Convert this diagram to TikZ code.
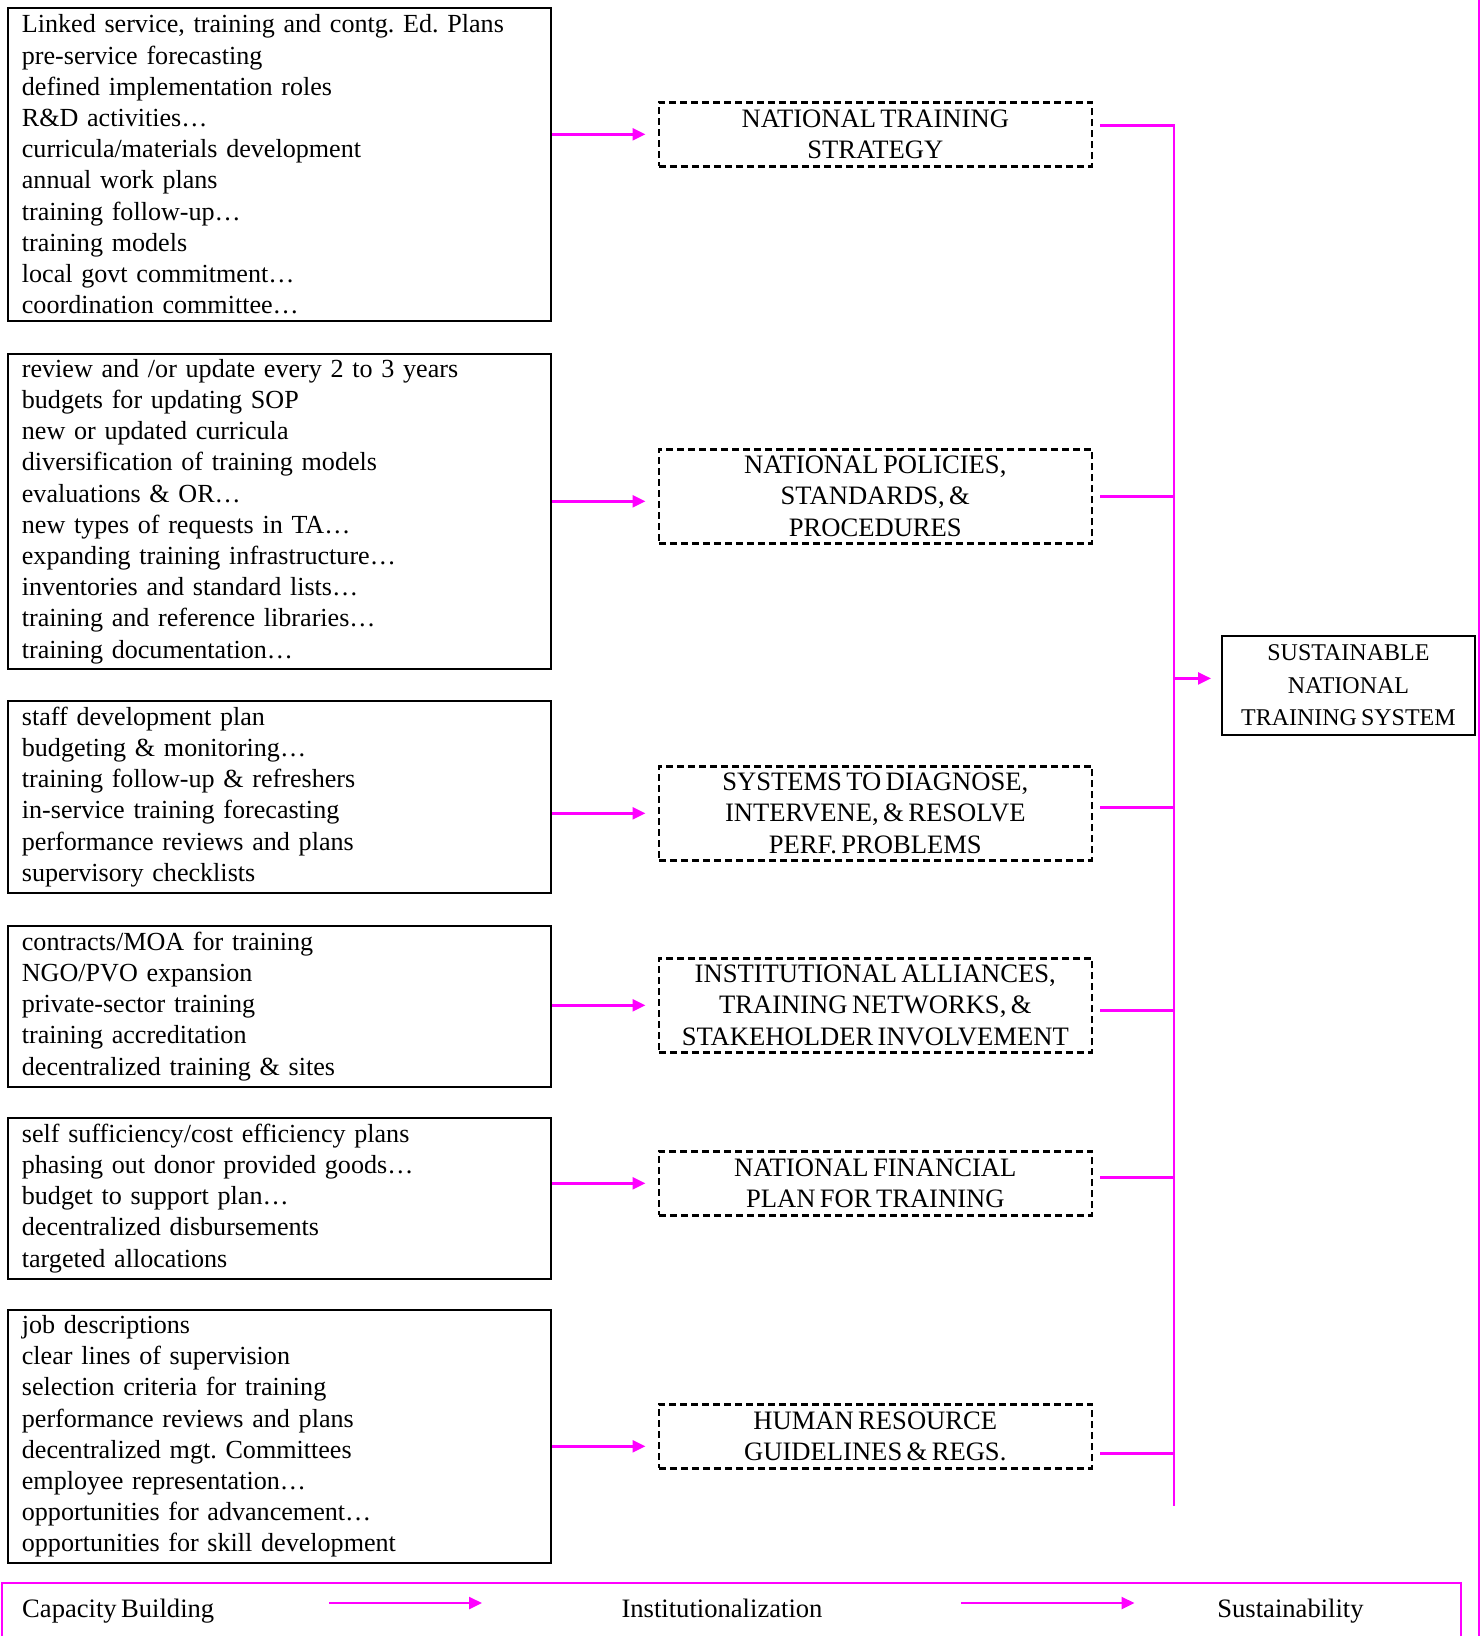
\documentclass[tikz,border=0pt]{standalone}
\usepackage{fontspec}
\setmainfont[WordSpace=0.66]{Liberation Serif}
\frenchspacing
\usepackage{xcolor}
\usetikzlibrary{arrows.meta, positioning, calc}
\definecolor{linkpink}{RGB}{255,0,255}

\begin{document}
\begin{tikzpicture}[
    x=1pt, y=-1pt,
    every node/.style={font=\fontsize{26.6}{31.2}\selectfont},
    listbox/.style={rectangle, draw, line width=1.8pt, text width=515pt,
                    inner xsep=14pt, inner ysep=0pt, align=left, anchor=north west,
                    font=\fontsize{26.1}{31.2}\selectfont},
    goalbox/.style={rectangle, draw, dash pattern=on 7pt off 4pt, line width=2.6pt,
                    minimum width=433pt, inner sep=0pt, align=center, anchor=north west},
    endbox/.style={rectangle, draw, line width=1.8pt, minimum width=253pt, minimum height=99pt,
                   inner sep=0pt, align=center, anchor=north west,
                   font=\fontsize{24}{32.4}\selectfont},
    link/.style={draw=linkpink, line width=2.4pt},
    feed/.style={link, -{Triangle[length=13pt,width=12pt]}, shorten >=12pt}
]
\useasboundingbox (0,0) rectangle (1481,1636);

% capacity building lists
\node (list1) [listbox, minimum height=313pt] at (7,7)
    {Linked service, training and contg. Ed. Plans\\pre-service forecasting\\defined implementation roles\\R\&D activities\ldots\\curricula/materials development\\annual work plans\\training follow-up\ldots\\training models\\local govt commitment\ldots\\coordination committee\ldots};
\node (list2) [listbox, minimum height=315pt] at (7,353)
    {review and /or update every 2 to 3 years\\budgets for updating SOP\\new or updated curricula\\diversification of training models\\evaluations \& OR\ldots\\new types of requests in TA\ldots\\expanding training infrastructure\ldots\\inventories and standard lists\ldots\\training and reference libraries\ldots\\training documentation\ldots};
\node (list3) [listbox, minimum height=192pt] at (7,700)
    {staff development plan\\budgeting \& monitoring\ldots\\training follow-up \& refreshers\\in-service training forecasting\\performance reviews and plans\\supervisory checklists};
\node (list4) [listbox, minimum height=161pt] at (7,925)
    {contracts/MOA for training\\NGO/PVO expansion\\private-sector training\\training accreditation\\decentralized training \& sites};
\node (list5) [listbox, minimum height=161pt] at (7,1117)
    {self sufficiency/cost efficiency plans\\phasing out donor provided goods\ldots\\budget to support plan\ldots\\decentralized disbursements\\targeted allocations};
\node (list6) [listbox, minimum height=253pt] at (7,1309)
    {job descriptions\\clear lines of supervision\\selection criteria for training\\performance reviews and plans\\decentralized mgt. Committees\\employee representation\ldots\\opportunities for advancement\ldots\\opportunities for skill development};

% institutionalization
\node (goal1) [goalbox, minimum height=64pt] at (657.5,101)
    {NATIONAL TRAINING\\STRATEGY};
\node (goal2) [goalbox, minimum height=94pt] at (657.5,448)
    {NATIONAL POLICIES,\\STANDARDS, \&\\PROCEDURES};
\node (goal3) [goalbox, minimum height=94pt] at (657.5,765)
    {SYSTEMS TO DIAGNOSE,\\INTERVENE, \& RESOLVE\\PERF. PROBLEMS};
\node (goal4) [goalbox, minimum height=94pt] at (657.5,957)
    {INSTITUTIONAL ALLIANCES,\\TRAINING NETWORKS, \&\\STAKEHOLDER INVOLVEMENT};
\node (goal5) [goalbox, minimum height=64pt] at (657.5,1150)
    {NATIONAL FINANCIAL\\PLAN FOR TRAINING};
\node (goal6) [goalbox, minimum height=64pt] at (657.5,1403)
    {HUMAN RESOURCE\\GUIDELINES \& REGS.};

% sustainability
\node (system) [endbox] at (1221,635)
    {SUSTAINABLE\\NATIONAL\\TRAINING SYSTEM};

\coordinate (bustop) at (1174,124);
\coordinate (busend) at (1174,1506);

\draw [feed] (goal1.west -| list1.east) -- (goal1.west);
\draw [feed] ([yshift=-5pt]goal2.west -| list2.east) -- ([yshift=-5pt]goal2.west);
\draw [feed] (goal3.west -| list3.east) -- (goal3.west);
\draw [feed] (goal4.west -| list4.east) -- (goal4.west);
\draw [feed] (goal5.west -| list5.east) -- (goal5.west);
\draw [feed] ([yshift=-10pt]goal6.west -| list6.east) -- ([yshift=-10pt]goal6.west);

\draw [link] ([xshift=7pt,yshift=9pt]goal1.east) -- ([yshift=9pt]goal1.east -| bustop);
\draw [link] ([xshift=7pt]goal2.east) -- (goal2.east -| bustop);
\draw [link] ([xshift=7pt,yshift=6pt]goal3.east) -- ([yshift=6pt]goal3.east -| bustop);
\draw [link] ([xshift=7pt,yshift=-5pt]goal4.east) -- ([yshift=-5pt]goal4.east -| bustop);
\draw [link] ([xshift=7pt,yshift=6pt]goal5.east) -- ([yshift=6pt]goal5.east -| bustop);
\draw [link] ([xshift=7pt,yshift=-17pt]goal6.east) -- ([yshift=-17pt]goal6.east -| bustop);
\draw [link] (bustop) -- (busend);
\draw [feed, shorten >=10pt] ([yshift=7pt]system.west -| bustop) -- ([yshift=7pt]system.west);

% right margin rule and bottom band
\draw [link] (1479,0) -- (1479,1640);
\draw [link] (2,1640) |- (1461,1583) -- (1461,1640);

\node (capacity) [anchor=base west, inner sep=0pt] at (22,1617) {Capacity Building};
\node (institution) [anchor=base, inner sep=0pt] at (722,1617) {Institutionalization};
\node (sustain) [anchor=base, inner sep=0pt] at (1290.5,1617) {Sustainability};
\coordinate (step1a) at (329,1603);
\coordinate (step1b) at (494,1603);
\coordinate (step2a) at (961,1603);
\coordinate (step2b) at (1146.5,1603);
\draw [feed] (step1a) -- (step1b);
\draw [feed] (step2a) -- (step2b);
\end{tikzpicture}
\end{document}
